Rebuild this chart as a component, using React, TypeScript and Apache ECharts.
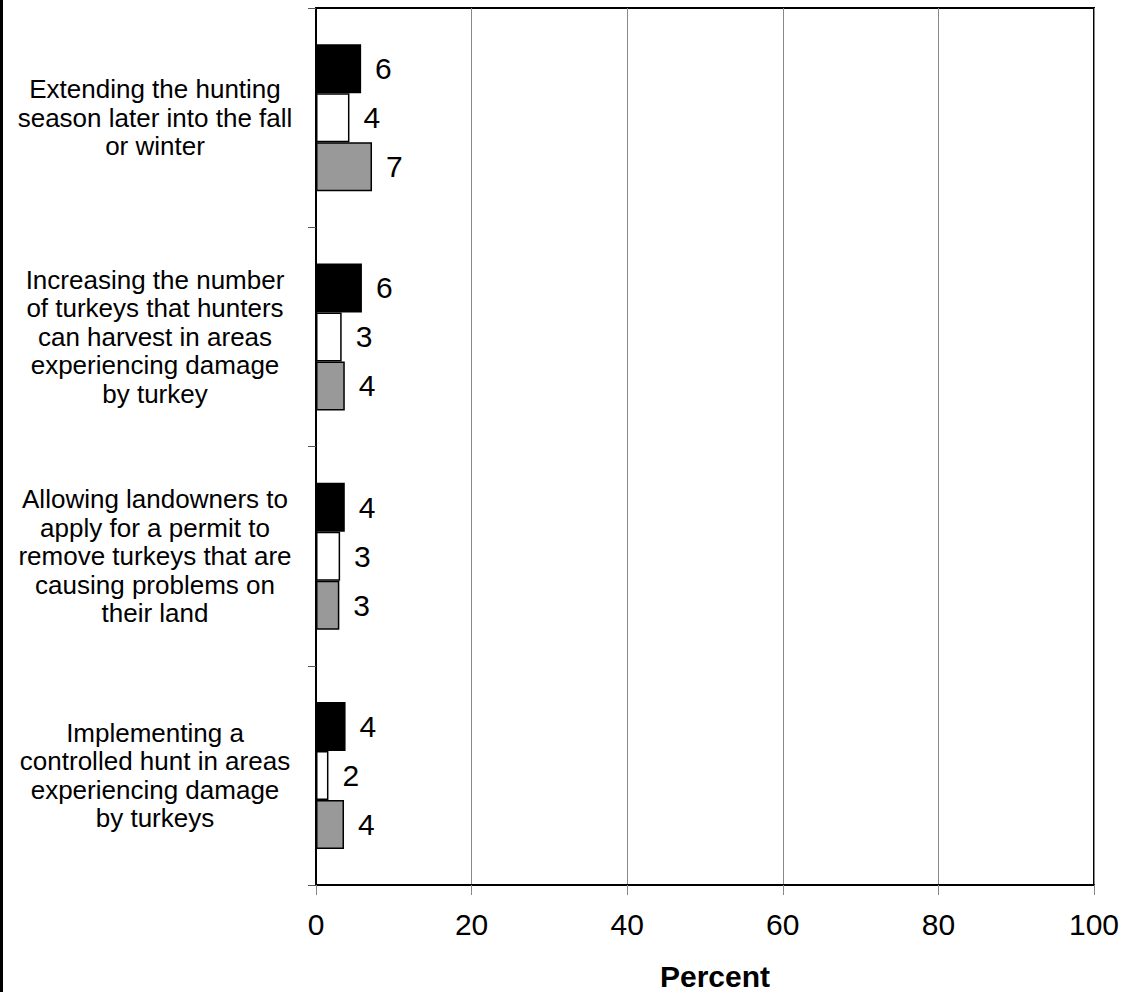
import React, { useEffect, useRef } from "react";
import * as echarts from "echarts";

const categories = [
  "Extending the hunting\nseason later into the fall\nor winter",
  "Increasing the number\nof turkeys that hunters\ncan harvest in areas\nexperiencing damage\nby turkey",
  "Allowing landowners to\napply for a permit to\nremove turkeys that are\ncausing problems on\ntheir land",
  "Implementing a\ncontrolled hunt in areas\nexperiencing damage\nby turkeys",
];
const blackSeries = [5.8, 5.9, 3.7, 3.8];
const whiteSeries = [4.3, 3.3, 3.1, 1.6];
const graySeries = [7.2, 3.7, 3.0, 3.6];
const xTicks = [0, 20, 40, 60, 80, 100];

const FONT = "'Liberation Sans', Arial, Helvetica, sans-serif";

export default function App() {
  const ref = useRef<HTMLDivElement>(null);
  useEffect(() => {
    document.body.style.margin = "0";
    if (!ref.current) return;
    const chart = echarts.init(ref.current, null, { renderer: "svg" });
    const label = {
      show: true,
      position: "right" as const,
      distance: 14,
      color: "#000",
      fontSize: 30,
      fontFamily: FONT,
      formatter: (p: any) => String(Math.round(p.value)),
    };
    const mk = (name: string, data: number[], color: string) => ({
      name,
      type: "bar",
      data,
      barWidth: 49,
      barGap: "0%",
      itemStyle: { color, borderColor: "#000", borderWidth: 1.5 },
      label,
    });
    chart.setOption({
      animation: false,
      backgroundColor: "#fff",
      grid: {
        left: 316,
        right: 32,
        top: 8,
        bottom: 107,
        outerBoundsMode: "none",
        containLabel: false,
        show: true,
        borderColor: "#000",
        borderWidth: 2,
      },
      xAxis: {
        type: "value",
        min: xTicks[0],
        max: xTicks[xTicks.length - 1],
        interval: 20,
        axisLine: { show: true, lineStyle: { color: "#000", width: 2 } },
        axisTick: { show: true, length: 10, lineStyle: { color: "#888", width: 1 } },
        axisLabel: { margin: 24, fontSize: 30, color: "#000", fontFamily: FONT },
        splitLine: { show: true, lineStyle: { color: "#888", width: 1 } },
        name: "Percent",
        nameLocation: "middle",
        nameGap: 76,
        nameTextStyle: {
          fontSize: 30,
          fontWeight: "bold",
          color: "#000",
          fontFamily: FONT,
          padding: [0, 0, 0, 20],
        },
      },
      yAxis: {
        type: "category",
        data: categories,
        inverse: true,
        axisLine: { show: true, lineStyle: { color: "#000", width: 2 } },
        axisTick: { show: true, length: 8, lineStyle: { color: "#555", width: 1 } },
        axisLabel: {
          margin: 161,
          align: "center",
          fontSize: 26,
          lineHeight: 28.5,
          color: "#000",
          fontFamily: FONT,
        },
        splitLine: { show: false },
      },
      graphic: [
        { type: "rect", left: 0, top: 0, shape: { width: 3, height: 992 }, style: { fill: "#000" } },
      ],
      series: [
        mk("A", blackSeries, "#000000"),
        mk("B", whiteSeries, "#ffffff"),
        mk("C", graySeries, "#999999"),
      ],
    });
    return () => chart.dispose();
  }, []);
  return <div ref={ref} style={{ width: 1126, height: 992 }} />;
}
